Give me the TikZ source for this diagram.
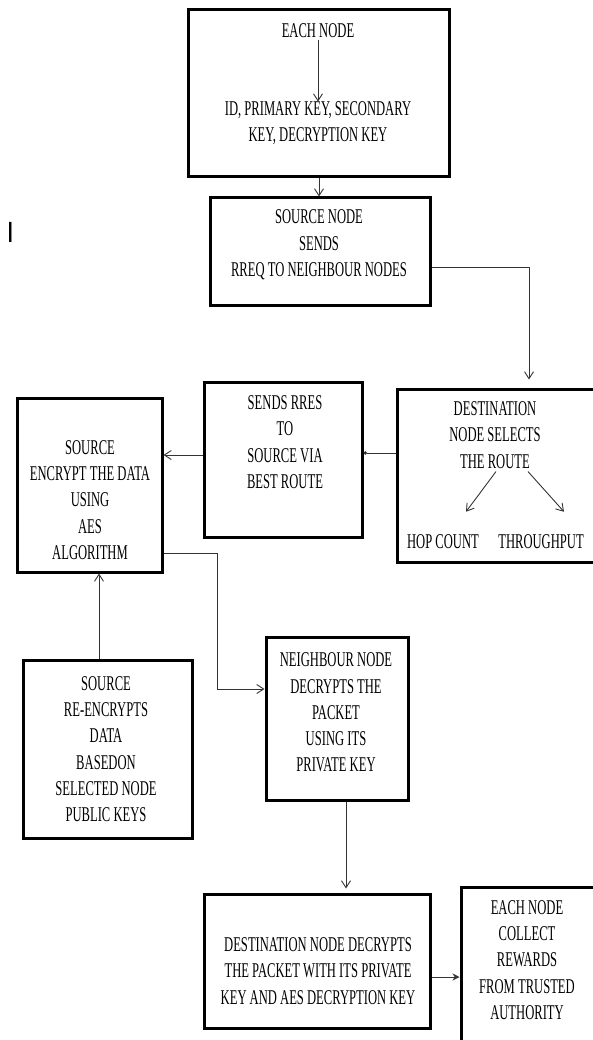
\documentclass[tikz,border=0pt]{standalone}
\usepackage{fontspec}
\setmainfont[FakeStretch=0.6]{Liberation Serif}
\usetikzlibrary{arrows.meta, calc}
\tikzset{
    box/.style={draw, line width=3pt, rectangle, inner sep=0pt}, % framed steps
    txt/.style={align=center, inner sep=0pt, font=\fontsize{21}{26.3}\selectfont}, % text of the steps
    conn/.style={draw=black!80, line width=0.9pt}, % lines between the steps
    >={Straight Barb[length=7pt,width=9pt]}, % open arrow heads
}

\begin{document}
\begin{tikzpicture}[x=1pt, y=-1pt]
    \useasboundingbox (0,0) rectangle (592,1040);
    % the boxes
    \node[box, minimum width=261pt, minimum height=167pt] (idbox) at (318.5,93.5) {};
    \node[box, minimum width=220pt, minimum height=107pt] (req) at (320,251.5) {};
    \node[box, minimum width=213pt, minimum height=173pt] (dest) at (503.5,475.5) {};
    \node[box, minimum width=158pt, minimum height=155pt] (rres) at (283,459.5) {};
    \node[box, minimum width=145pt, minimum height=174pt] (enc) at (89.5,485) {};
    \node[box, minimum width=169pt, minimum height=178pt] (reenc) at (107.5,749) {};
    \node[box, minimum width=142pt, minimum height=163pt] (nbr) at (337,718.5) {};
    \node[box, minimum width=226pt, minimum height=134pt] (ddec) at (317,961) {};
    \node[box, minimum width=149pt, minimum height=155pt] (reward) at (535.5,964.5) {};
    % the texts
    \node[font=\sffamily\fontsize{29}{30}\selectfont] (mark) at (10.5,232.5) {I};
    \node[txt] (each) at (318,31) {EACH NODE};
    \node[txt] (keys) at (318,123.5) {ID, PRIMARY KEY, SECONDARY\\KEY, DECRYPTION KEY};
    \node[txt] (reqtxt) at (319,245) {SOURCE NODE\\SENDS\\RREQ TO NEIGHBOUR NODES};
    \node[txt] (desttxt) at (495,435) {DESTINATION\\NODE SELECTS\\THE ROUTE};
    \node[txt] (hop) at (443,542) {HOP COUNT};
    \node[txt] (through) at (541,542) {THROUGHPUT};
    \node[txt] (rrestxt) at (285,442) {SENDS RRES\\TO\\SOURCE VIA\\BEST ROUTE};
    \node[txt] (enctxt) at (90,500) {SOURCE\\ENCRYPT THE DATA\\USING\\AES\\ALGORITHM};
    \node[txt] (reenctxt) at (106,749) {SOURCE\\RE-ENCRYPTS\\DATA\\BASEDON\\SELECTED NODE\\PUBLIC KEYS};
    \node[txt] (nbrtxt) at (336,712.5) {NEIGHBOUR NODE\\DECRYPTS THE\\PACKET\\USING ITS\\PRIVATE KEY};
    \node[txt] (ddectxt) at (318,971) {DESTINATION NODE DECRYPTS\\THE PACKET WITH ITS PRIVATE\\KEY AND AES DECRYPTION KEY};
    \node[txt] (rewardtxt) at (527,960) {EACH NODE\\COLLECT\\REWARDS\\FROM TRUSTED\\AUTHORITY};
    % the connectors
    \draw[conn, ->, shorten <=2pt] (each) -- (keys);
    \draw[conn, ->] (idbox.south -| 319,0) -- (req.north -| 319,0);
    \draw[conn, ->, shorten >=8pt] ([yshift=-15.5pt]req.east) -| ($(dest.north)+(25.5,0)$);
    \draw[conn, ->] ($(desttxt.south)+(1,3)$) -- ($(hop.north)+(23,-23)$);
    \draw[conn, ->] ($(desttxt.south)+(33,3)$) -- ($(through.north)+(23,-23)$);
    \draw[conn, -{Circle[length=3.5pt]}] ([yshift=22.5pt]dest.west) -- ([yshift=22.5pt]dest.west -| rres.east);
    \draw[conn, ->] ([yshift=4.5pt]rres.west) -- ([yshift=4.5pt]rres.west -| enc.east);
    \draw[conn, ->] ([yshift=-68pt]enc.east) -- ++(54,0) |- ([yshift=29.5pt]nbr.west);
    \draw[conn, ->] ([xshift=-8.5pt]reenc.north) -- ([xshift=-8.5pt]reenc.north |- enc.south);
    \draw[conn, ->, shorten >=4pt] ([xshift=9pt]nbr.south) -- ([xshift=9pt]nbr.south |- ddec.north);
    \draw[conn, -{Stealth[length=7pt,width=7pt]}] ([yshift=-16pt]ddec.east) -- ([yshift=-16pt]ddec.east -| reward.west);
\end{tikzpicture}
\end{document}
